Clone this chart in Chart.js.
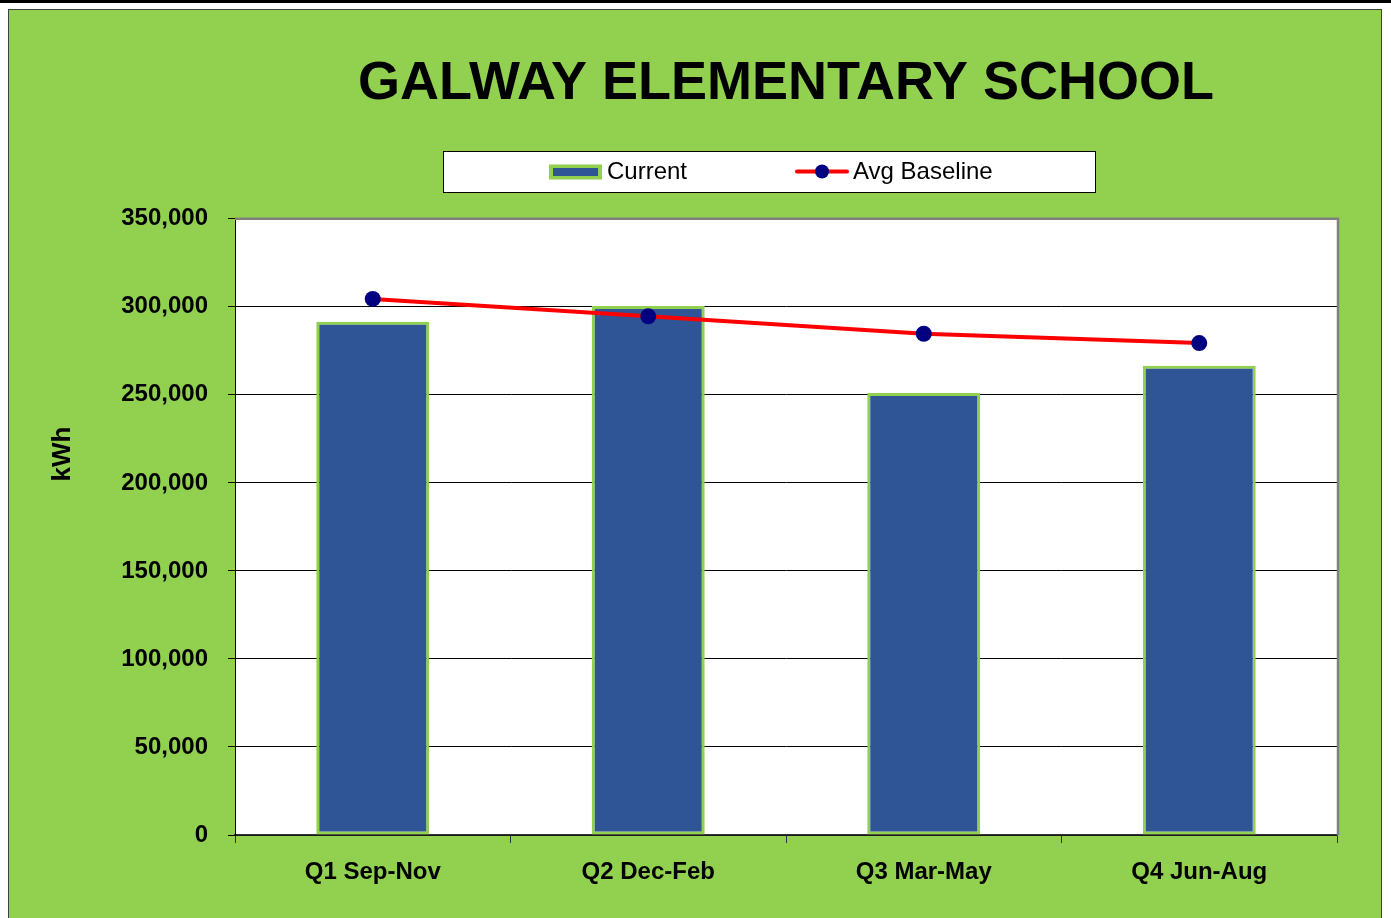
<!DOCTYPE html>
<html>
<head>
<meta charset="utf-8">
<script src="https://cdn.jsdelivr.net/npm/chart.js@4"></script>
<style>
  html, body { margin: 0; padding: 0; background: #fff; }
  canvas { display: block; }
</style>
</head>
<body>
<canvas id="chart" width="1391" height="918"></canvas>
<script>
const quarters = ['Q1 Sep-Nov', 'Q2 Dec-Feb', 'Q3 Mar-May', 'Q4 Jun-Aug'];
const current = [291500, 300500, 251000, 266500];
const avgBaseline = [304500, 294600, 284700, 279400];
const yTicks = [0, 50000, 100000, 150000, 200000, 250000, 300000, 350000];

const green = '#92D050';
const sans = "'Liberation Sans', Arial, sans-serif";

// green panel, plot background, frame, legend, axis title
const panelPlugin = {
  id: 'panel',
  beforeDraw(chart) {
    const c = chart.ctx, a = chart.chartArea;
    c.save();
    c.fillStyle = '#fff';
    c.fillRect(0, 0, chart.width, chart.height);
    c.fillStyle = '#000';
    c.fillRect(0, 0, chart.width, 3);
    c.fillStyle = green;
    c.fillRect(8, 9, 1374, chart.height);
    c.strokeStyle = '#404040';
    c.lineWidth = 1;
    c.strokeRect(8.5, 9.5, 1373, chart.height + 5);
    c.fillStyle = '#fff';
    c.fillRect(a.left, a.top, a.right - a.left, a.bottom - a.top);
    c.restore();
  },
  afterDraw(chart) {
    const c = chart.ctx, a = chart.chartArea;
    c.save();
    c.strokeStyle = '#808080';
    c.lineWidth = 2.5;
    c.beginPath();
    c.moveTo(a.left, a.top);
    c.lineTo(a.right + 1, a.top);
    c.lineTo(a.right + 1, a.bottom);
    c.stroke();

    // y axis title
    c.fillStyle = '#000';
    c.font = 'bold 26px ' + sans;
    c.textAlign = 'center';
    c.textBaseline = 'middle';
    c.translate(63, 454);
    c.rotate(-Math.PI / 2);
    c.fillText('kWh', 0, 0);
    c.setTransform(1, 0, 0, 1, 0, 0);

    // legend box
    const bx = 443, by = 151, bw = 652, bh = 41, cy = by + bh / 2;
    c.fillStyle = '#fff';
    c.fillRect(bx, by, bw, bh);
    c.strokeStyle = '#000';
    c.lineWidth = 1;
    c.strokeRect(bx + 0.5, by + 0.5, bw, bh);

    const bar = chart.data.datasets[1], line = chart.data.datasets[0];
    c.fillStyle = bar.borderColor;
    c.fillRect(549, cy - 7, 53, 15);
    c.fillStyle = bar.backgroundColor;
    c.fillRect(553, cy - 3.5, 45, 8);
    c.strokeStyle = line.borderColor;
    c.lineWidth = 4;
    c.lineCap = 'round';
    c.beginPath();
    c.moveTo(797, cy);
    c.lineTo(847, cy);
    c.stroke();
    c.fillStyle = line.pointBackgroundColor;
    c.beginPath();
    c.arc(822, cy, 7, 0, Math.PI * 2);
    c.fill();

    c.fillStyle = '#000';
    c.font = '24px ' + sans;
    c.textBaseline = 'middle';
    c.textAlign = 'left';
    c.fillText(bar.label, 607, cy + 1);
    c.fillText(line.label, 853, cy + 1);
    c.restore();
  }
};

new Chart(document.getElementById('chart'), {
  type: 'bar',
  data: {
    labels: quarters,
    datasets: [
      {
        type: 'line',
        label: 'Avg Baseline',
        data: avgBaseline,
        borderColor: '#FF0000',
        borderWidth: 4,
        pointRadius: 8,
        pointBackgroundColor: '#000080',
        pointBorderColor: '#000080',
        pointBorderWidth: 0,
        tension: 0,
        order: 0
      },
      {
        type: 'bar',
        label: 'Current',
        data: current,
        backgroundColor: '#2F5597',
        borderColor: green,
        borderWidth: 3,
        borderSkipped: false,
        barPercentage: 0.41,
        categoryPercentage: 1,
        order: 1
      }
    ]
  },
  options: {
    responsive: false,
    animation: false,
    devicePixelRatio: 1,
    layout: { padding: { top: 0, left: 0, right: 54, bottom: 0 } },
    plugins: {
      legend: { display: false },
      tooltip: { enabled: false },
      title: {
        display: true,
        fullSize: false,
        text: 'GALWAY ELEMENTARY SCHOOL',
        color: '#000',
        font: { family: sans, size: 54, weight: 'bold', lineHeight: 1.2 },
        padding: { top: 52, bottom: 102 }
      }
    },
    scales: {
      x: {
        offset: true,
        grid: { display: true, drawOnChartArea: false, offset: true, tickLength: 8, color: '#333' },
        border: { color: '#333', width: 1.5 },
        ticks: { color: '#000', padding: 15, font: { family: sans, size: 24, weight: 'bold' } },
        afterFit(s) { s.height = 83; }
      },
      y: {
        min: 0,
        max: 350000,
        afterBuildTicks(s) { s.ticks = yTicks.map(v => ({ value: v })); },
        grid: {
          color: c => c.tick && c.tick.value === 350000 ? 'rgba(0,0,0,0)' : '#000',
          lineWidth: 1,
          tickLength: 7,
          tickColor: '#000'
        },
        border: { color: '#000', width: 1 },
        ticks: {
          color: '#000',
          padding: 20,
          font: { family: sans, size: 24, weight: 'bold' },
          callback: v => v.toLocaleString('en-US')
        },
        afterFit(s) { s.width = 235; }
      }
    }
  },
  plugins: [panelPlugin]
});
</script>
</body>
</html>
